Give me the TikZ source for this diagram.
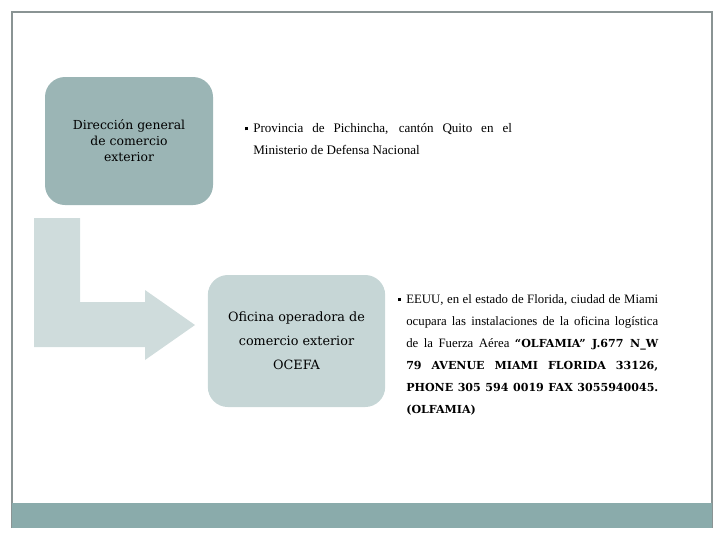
\documentclass[tikz,border=0pt]{standalone}
\usepackage{fontspec}
\setmainfont{Liberation Serif}
\newfontfamily\boxfont{DejaVu Serif}
\usetikzlibrary{positioning}
\definecolor{boxdark}{HTML}{9BB5B5}
\definecolor{boxlight}{HTML}{C6D6D6}
\definecolor{arrowfill}{HTML}{CFDCDC}
\definecolor{barfill}{HTML}{8AABAB}
\definecolor{framegray}{HTML}{8A9494}
\newcommand{\sqbullet}{\llap{\raisebox{1.5pt}{\rule{2.2pt}{2.2pt}}\hspace{4pt}}}
\newcommand{\heavy}[1]{{\boxfont\bfseries\fontsize{8.3}{16.5}\selectfont #1}}

\begin{document}
\begin{tikzpicture}[x=0.75pt,y=-0.75pt,
    orgbox/.style={rounded corners=15pt, draw=none, align=center, inner sep=0pt},
    bodytext/.style={anchor=north west, inner sep=0pt, align=justify,
      font=\fontsize{9.6}{16.5}\selectfont}]
\useasboundingbox (0,0) rectangle (720,540);
% frame and footer
\draw[framegray, line width=0.9pt] (12,528) -- (12,12) -- (712,12) -- (712,528);
\fill[barfill] (12,503) rectangle (712,528);

\node[orgbox, fill=boxdark, minimum width=126pt, minimum height=96pt,
    font=\boxfont\fontsize{9.3}{12}\selectfont] (dir) at (129,141)
    {Dirección general\\ de comercio\\ exterior};
\node[orgbox, fill=boxlight, minimum width=133pt, minimum height=99pt,
    font=\boxfont\fontsize{9.6}{18}\selectfont] (ofi) at (296.5,341)
    {Oficina operadora de\\ comercio exterior\\ OCEFA};

% L-shaped arrow
\fill[arrowfill] (34,218) -- (80,218) -- (80,302) -- (145,302) -- (145,290)
    -- (195,325) -- (145,360) -- (145,347) -- (34,347) -- cycle;

\node[bodytext, text width=194pt, font=\fontsize{9.8}{16.5}\selectfont] (quito) at (253,123)
    {\sqbullet Provincia de Pichincha, cantón Quito en el\linebreak
     Ministerio de Defensa Nacional};
\node[bodytext, text width=189pt] (miami) at (406,294)
    {\sqbullet EEUU, en el estado de Florida, ciudad de Miami\linebreak
     ocupara las instalaciones de la oficina logística\linebreak
     de la Fuerza Aérea \heavy{“OLFAMIA” J.677 N\_W}\linebreak
     \heavy{79 AVENUE MIAMI FLORIDA 33126,}\linebreak
     \heavy{PHONE 305 594 0019 FAX 3055940045.}\linebreak
     \heavy{(OLFAMIA)}};
\end{tikzpicture}
\end{document}
